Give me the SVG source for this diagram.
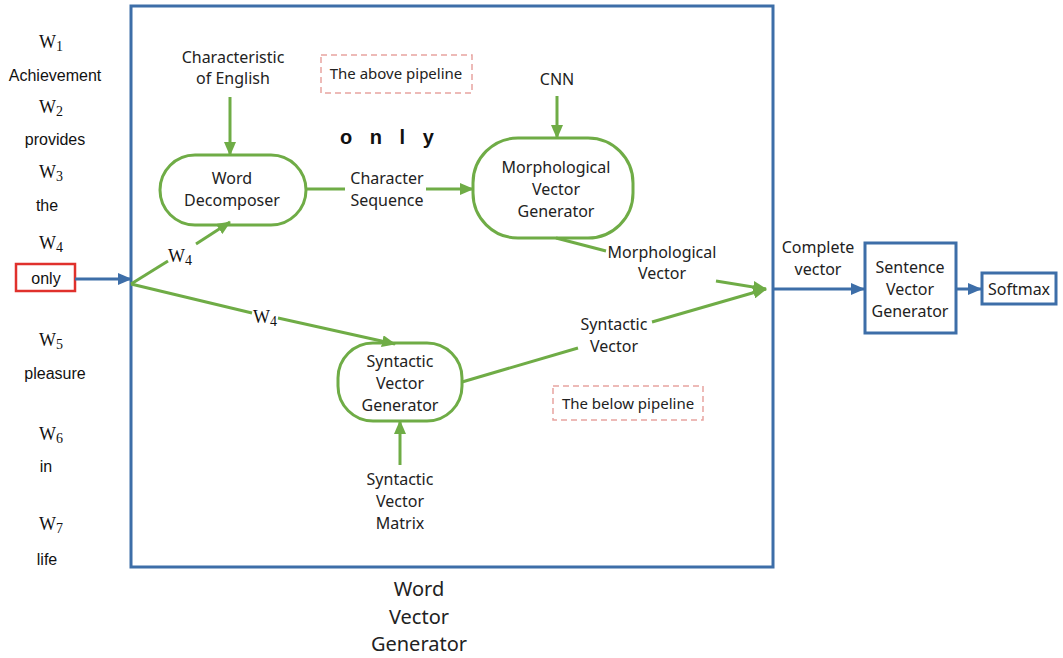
<svg xmlns="http://www.w3.org/2000/svg" width="1063" height="658" viewBox="0 0 1063 658">
<defs>
<marker id="ag" markerUnits="userSpaceOnUse" markerWidth="14" markerHeight="12" refX="13" refY="6" orient="auto"><path d="M0,0 L14,6 L0,12 Z" fill="#6fac46"/></marker>
<marker id="ab" markerUnits="userSpaceOnUse" markerWidth="14" markerHeight="12" refX="13" refY="6" orient="auto"><path d="M0,0 L14,6 L0,12 Z" fill="#3d6ea8"/></marker>
<style>
.t{font-family:"Noto Sans","Liberation Sans",sans-serif;font-size:16px;fill:#222;text-anchor:middle}
.w{font-family:"Liberation Sans",Arial,sans-serif;font-size:16px;fill:#111;text-anchor:middle}
.s{font-family:"Liberation Serif","Times New Roman",serif;font-size:18px;fill:#111;text-anchor:middle}
.gs{fill:#fff;stroke:#6fac46;stroke-width:3}
.gl{fill:none;stroke:#6fac46;stroke-width:3}
.bl{fill:none;stroke:#3d6ea8;stroke-width:3}
.bb{fill:#fff;stroke:#3d6ea8;stroke-width:3}
.dash{fill:#fff;stroke:#e8a4a0;stroke-width:1.5;stroke-dasharray:6,4}
</style>
</defs>
<rect width="1063" height="658" fill="#fff"/>

<g id="word-vector-generator">
<rect x="131" y="6" width="642" height="561" class="bl"/>
<text class="t" style="font-size:20px" x="419" y="596">Word</text>
<text class="t" style="font-size:20px" x="419" y="624">Vector</text>
<text class="t" style="font-size:20px" x="419" y="651">Generator</text>
</g>

<g id="sentence">
<text class="s" x="51" y="48">W<tspan font-size="14" dy="3">1</tspan></text>
<text class="w" x="55" y="81">Achievement</text>
<text class="s" x="51" y="113">W<tspan font-size="14" dy="3">2</tspan></text>
<text class="w" x="55" y="145">provides</text>
<text class="s" x="51" y="178">W<tspan font-size="14" dy="3">3</tspan></text>
<text class="w" x="47" y="211">the</text>
<text class="s" x="51" y="249">W<tspan font-size="14" dy="3">4</tspan></text>
<text class="s" x="51" y="346">W<tspan font-size="14" dy="3">5</tspan></text>
<text class="w" x="55" y="379">pleasure</text>
<text class="s" x="51" y="440">W<tspan font-size="14" dy="3">6</tspan></text>
<text class="w" x="46" y="472">in</text>
<text class="s" x="51" y="530">W<tspan font-size="14" dy="3">7</tspan></text>
<text class="w" x="47" y="565">life</text>
</g>

<g id="only">
<rect x="16" y="264" width="59" height="27" fill="#fff" stroke="#e0312c" stroke-width="2.5"/>
<text class="w" x="46" y="284">only</text>
</g>

<g id="char-english">
<text class="t" x="233" y="63">Characteristic</text>
<text class="t" x="233" y="84">of English</text>
</g>

<g id="above-pipeline">
<rect x="321" y="55" width="151" height="38" class="dash"/>
<text class="t" x="396" y="79" style="font-size:15px">The above pipeline</text>
</g>

<g id="only-letters">
<text x="340" y="144" style="font-family:'Liberation Sans',Arial,sans-serif;font-size:20px;font-weight:bold;letter-spacing:6px" fill="#111">o n l y</text>
</g>

<g id="word-decomposer">
<rect x="160" y="155" width="146" height="70" rx="35" class="gs"/>
<text class="t" x="232" y="184">Word</text>
<text class="t" x="232" y="206">Decomposer</text>
</g>

<g id="cnn">
<text class="t" x="557" y="85">CNN</text>
</g>

<g id="morph-gen">
<rect x="473" y="138" width="160" height="100" rx="45" class="gs"/>
<text class="t" x="556" y="173">Morphological</text>
<text class="t" x="556" y="195">Vector</text>
<text class="t" x="556" y="217">Generator</text>
</g>

<g id="syn-gen">
<rect x="338" y="343" width="124" height="78" rx="35" class="gs"/>
<text class="t" x="400" y="367">Syntactic</text>
<text class="t" x="400" y="389">Vector</text>
<text class="t" x="400" y="411">Generator</text>
</g>

<g id="syn-matrix">
<text class="t" x="400" y="485">Syntactic</text>
<text class="t" x="400" y="507">Vector</text>
<text class="t" x="400" y="529">Matrix</text>
</g>

<g id="below-pipeline">
<rect x="553" y="386" width="150" height="34" class="dash"/>
<text class="t" x="628" y="409" style="font-size:15px">The below pipeline</text>
</g>

<g id="sentence-gen">
<rect x="865" y="243" width="91" height="90" class="bb"/>
<text class="t" x="910" y="273">Sentence</text>
<text class="t" x="910" y="295">Vector</text>
<text class="t" x="910" y="317">Generator</text>
</g>

<g id="softmax">
<rect x="982" y="273" width="74" height="31" class="bb"/>
<text class="t" x="1019" y="295">Softmax</text>
</g>

<g id="connectors">
<line x1="75" y1="279" x2="131" y2="279" class="bl" marker-end="url(#ab)"/>
<line x1="131" y1="284" x2="168" y2="261" class="gl"/>
<line x1="196" y1="244" x2="230" y2="222" class="gl" marker-end="url(#ag)"/>
<text class="s" x="180" y="262">W<tspan font-size="14" dy="3">4</tspan></text>
<line x1="131" y1="284" x2="252" y2="313" class="gl"/>
<line x1="278" y1="318" x2="395" y2="344" class="gl" marker-end="url(#ag)"/>
<text class="s" x="265" y="323">W<tspan font-size="14" dy="3">4</tspan></text>
<line x1="230" y1="97" x2="230" y2="155" class="gl" marker-end="url(#ag)"/>
<line x1="557" y1="96" x2="557" y2="138" class="gl" marker-end="url(#ag)"/>
<line x1="306" y1="189" x2="345" y2="189" class="gl"/>
<line x1="426" y1="189" x2="473" y2="189" class="gl" marker-end="url(#ag)"/>
<text class="t" x="387" y="184">Character</text>
<text class="t" x="387" y="206">Sequence</text>
<line x1="556" y1="238" x2="606" y2="251" class="gl"/>
<text class="t" x="662" y="258">Morphological</text>
<text class="t" x="662" y="279">Vector</text>
<line x1="716" y1="281" x2="766" y2="289" class="gl" marker-end="url(#ag)"/>
<line x1="400" y1="465" x2="400" y2="421" class="gl" marker-end="url(#ag)"/>
<line x1="462" y1="382" x2="578" y2="348" class="gl"/>
<text class="t" x="614" y="330">Syntactic</text>
<text class="t" x="614" y="352">Vector</text>
<line x1="652" y1="322" x2="766" y2="289" class="gl" marker-end="url(#ag)"/>
<line x1="773" y1="289" x2="864" y2="289" class="bl" marker-end="url(#ab)"/>
<text class="t" x="818" y="253">Complete</text>
<text class="t" x="818" y="275">vector</text>
<line x1="956" y1="289" x2="981" y2="289" class="bl" marker-end="url(#ab)"/>
</g>
</svg>
